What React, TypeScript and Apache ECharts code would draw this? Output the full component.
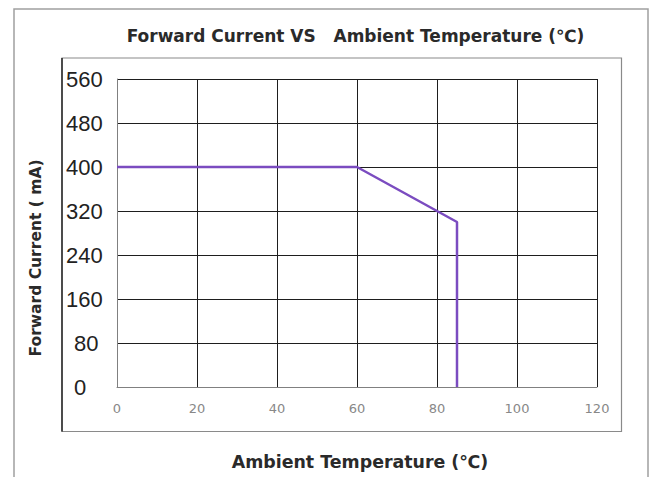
import React, { useEffect, useRef } from "react";
import * as echarts from "echarts";

const temperature = [0, 60, 80, 85, 85];
const current = [400, 400, 320, 300, 0];
const xTicks = { min: 0, max: 120, interval: 20 };
const yTicks = { min: 0, max: 560, interval: 80 };
const titleText = "Forward Current VS   Ambient Temperature (\u2103)";
const xName = "Ambient Temperature (\u2103)";
const yName = "Forward Current ( mA)";

export default function App() {
  const ref = useRef<HTMLDivElement>(null);
  useEffect(() => {
    if (!ref.current) return;
    const chart = echarts.init(ref.current, null, { renderer: "svg" });
    const boldFont = "DejaVu Sans";
    chart.setOption({
      animation: false,
      backgroundColor: "#ffffff",
      grid: { left: 117, top: 79, width: 480, height: 308, containLabel: false },
      xAxis: {
        type: "value",
        min: xTicks.min,
        max: xTicks.max,
        interval: xTicks.interval,
        axisLine: { show: true, lineStyle: { color: "#808080", width: 1 } },
        axisTick: { show: false },
        axisLabel: { color: "#888888", fontSize: 13, fontFamily: "DejaVu Sans", margin: 15 },
        splitLine: { show: true, lineStyle: { color: "#1e1e1e", width: 1 } },
      },
      yAxis: {
        type: "value",
        min: yTicks.min,
        max: yTicks.max,
        interval: yTicks.interval,
        axisLine: { show: true, lineStyle: { color: "#808080", width: 1 } },
        axisTick: { show: false },
        axisLabel: {
          color: "#222222",
          fontSize: 22,
          fontFamily: "Liberation Sans",
          align: "left",
          margin: 51,
          formatter: (v: number) => (v < 100 ? `{s|${v}}` : `{n|${v}}`),
          rich: {
            s: { fontSize: 22, fontFamily: "Liberation Sans", color: "#222222", padding: [0, 0, 0, 8] },
            n: { fontSize: 22, fontFamily: "Liberation Sans", color: "#222222" },
          },
        },
        splitLine: { show: true, lineStyle: { color: "#1e1e1e", width: 1 } },
      },
      graphic: [
        {
          type: "rect",
          shape: { x: 14, y: 9, width: 634, height: 480 },
          style: { fill: "none", stroke: "#a0a0a0", lineWidth: 1.5 },
          silent: true,
          z: -10,
        },
        {
          type: "rect",
          shape: { x: 62, y: 58, width: 559.5, height: 373.5 },
          style: { fill: "none", stroke: "#8a8a8a", lineWidth: 1.2 },
          silent: true,
          z: -10,
        },
        {
          type: "line",
          shape: { x1: 62, y1: 58, x2: 62, y2: 431.5 },
          style: { stroke: "#111111", lineWidth: 1.3 },
          silent: true,
          z: -9,
        },
        {
          type: "text",
          x: 355.5,
          y: 36,
          style: {
            text: titleText,
            font: `bold 17px "${boldFont}"`,
            fill: "#2a2a2a",
            align: "center",
            verticalAlign: "middle",
          },
        },
        {
          type: "text",
          x: 360,
          y: 462,
          style: {
            text: xName,
            font: `bold 17.4px "${boldFont}"`,
            fill: "#2a2a2a",
            align: "center",
            verticalAlign: "middle",
          },
        },
        {
          type: "text",
          x: 36,
          y: 258,
          rotation: Math.PI / 2,
          style: {
            text: yName,
            font: `bold 15.5px "${boldFont}"`,
            fill: "#2a2a2a",
            align: "center",
            verticalAlign: "middle",
          },
        },
      ],
      series: [
        {
          type: "line",
          data: temperature.map((t, i) => [t, current[i]]),
          showSymbol: false,
          symbol: "none",
          lineStyle: { color: "#7b4cc0", width: 2.5 },
          z: 5,
        },
      ],
    });
    return () => chart.dispose();
  }, []);
  return (
    <div
      ref={ref}
      style={{ position: "fixed", left: 0, top: 0, width: 654, height: 477 }}
    />
  );
}
